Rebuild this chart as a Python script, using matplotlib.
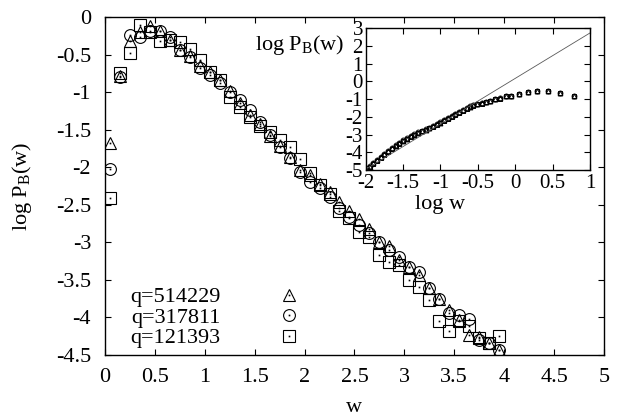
import matplotlib
matplotlib.use("Agg")
import matplotlib.pyplot as plt
from matplotlib.ticker import FormatStrFormatter, MultipleLocator
from matplotlib.legend_handler import HandlerTuple

plt.rcParams['font.family'] = ['Liberation Serif', 'DejaVu Serif']
plt.rcParams['mathtext.fontset'] = 'custom'
plt.rcParams['mathtext.rm'] = 'Liberation Serif'
plt.rcParams['mathtext.it'] = 'Liberation Serif:italic'
plt.rcParams['font.size'] = 16

# Hauptplot: Verteilung P_B(w) fuer drei q-Werte
w = [0.05, 0.15, 0.25, 0.35, 0.45, 0.55, 0.65, 0.75, 0.85, 0.95,
     1.05, 1.15, 1.25, 1.35, 1.45, 1.55, 1.65, 1.75, 1.85, 1.95,
     2.05, 2.15, 2.25, 2.35, 2.45, 2.55, 2.65, 2.75, 2.85, 2.95,
     3.05, 3.15, 3.25, 3.35, 3.45, 3.55, 3.65, 3.75, 3.85, 3.95]

logp_514229 = [-1.68, -0.78, -0.32, -0.20, -0.12, -0.18, -0.30, -0.44, -0.52, -0.65,
               -0.73, -0.84, -0.99, -1.15, -1.30, -1.42, -1.58, -1.72, -1.86, -2.04,
               -2.10, -2.22, -2.33, -2.46, -2.58, -2.69, -2.82, -2.99, -3.05, -3.24,
               -3.33, -3.44, -3.61, -3.76, -3.90, -4.04, -4.23, -4.26, -4.34, -4.43]

logp_317811 = [-2.03, -0.80, -0.24, -0.26, -0.18, -0.18, -0.27, -0.44, -0.53, -0.68,
               -0.77, -0.88, -1.00, -1.10, -1.24, -1.40, -1.57, -1.73, -1.88, -2.06,
               -2.19, -2.28, -2.40, -2.54, -2.66, -2.77, -2.88, -2.99, -3.10, -3.19,
               -3.33, -3.40, -3.61, -3.76, -3.94, -3.97, -4.02, -4.30, -4.34, -4.43]

logp_121393 = [-2.41, -0.75, -0.48, -0.11, -0.20, -0.32, -0.30, -0.33, -0.43, -0.57,
               -0.73, -0.84, -1.07, -1.20, -1.33, -1.45, -1.53, -1.64, -1.73, -1.89,
               -2.08, -2.24, -2.35, -2.58, -2.68, -2.86, -2.93, -3.17, -3.26, -3.30,
               -3.50, -3.59, -3.77, -4.05, -4.18, -4.05, -4.12, -4.28, -4.34, -4.25]

labels = ['q=514229', 'q=317811', 'q=121393']
markers = ['^', 'o', 's']

# Inset: log P_B gegen log w
logw_in = [-2.0, -1.95, -1.9, -1.85, -1.8, -1.75, -1.7, -1.65, -1.6, -1.55,
           -1.5, -1.45, -1.4, -1.35, -1.3, -1.25, -1.2, -1.15, -1.1, -1.05,
           -1.0, -0.95, -0.9, -0.85, -0.8, -0.75, -0.7, -0.65, -0.6, -0.56,
           -0.51, -0.45, -0.39, -0.34, -0.27, -0.21, -0.13, -0.05, 0.05, 0.17,
           0.29, 0.44, 0.60, 0.785]

logp_in_514229 = [-4.95, -4.80, -4.62, -4.45, -4.28, -4.10, -3.93, -3.77, -3.62, -3.48,
                  -3.35, -3.22, -3.10, -3.00, -2.90, -2.80, -2.72, -2.63, -2.53, -2.42,
                  -2.32, -2.20, -2.08, -1.97, -1.86, -1.75, -1.63, -1.52, -1.42, -1.35,
                  -1.29, -1.24, -1.18, -1.12, -1.01, -0.96, -0.84, -0.84, -0.73, -0.62,
                  -0.56, -0.56, -0.67, -0.84]

logp_in_317811 = [-4.90, -4.76, -4.60, -4.42, -4.25, -4.08, -3.90, -3.74, -3.58, -3.45,
                  -3.32, -3.20, -3.08, -2.98, -2.88, -2.79, -2.70, -2.61, -2.51, -2.40,
                  -2.30, -2.18, -2.07, -1.96, -1.85, -1.74, -1.62, -1.51, -1.41, -1.34,
                  -1.28, -1.23, -1.17, -1.11, -1.00, -0.95, -0.83, -0.83, -0.72, -0.61,
                  -0.55, -0.55, -0.66, -0.83]

logp_in_121393 = [-4.98, -4.84, -4.66, -4.48, -4.31, -4.13, -3.96, -3.80, -3.65, -3.51,
                  -3.38, -3.25, -3.12, -3.02, -2.92, -2.82, -2.74, -2.65, -2.55, -2.44,
                  -2.34, -2.22, -2.10, -1.99, -1.88, -1.77, -1.65, -1.54, -1.44, -1.37,
                  -1.30, -1.25, -1.19, -1.13, -1.02, -0.97, -0.85, -0.85, -0.74, -0.63,
                  -0.57, -0.56, -0.68, -0.85]

fit_x = [-2.0, 1.0]
fit_y = [-4.95, 2.72]

fig = plt.figure(figsize=(6.21, 4.18), dpi=100)
ax = fig.add_axes([0.169, 0.1507, 0.8036, 0.8086])

handles = []
for ys, m, lab in zip([logp_514229, logp_317811, logp_121393], markers, labels):
    h, = ax.plot(w, ys, linestyle='none', marker=m, markersize=8.5,
                 markerfacecolor='none', markeredgecolor='k', markeredgewidth=0.8)
    d, = ax.plot(w, ys, linestyle='none', marker='s', markersize=1.2,
                 markerfacecolor='k', markeredgewidth=0, color='k')
    handles.append((h, d))

ax.set_xlim(0, 5)
ax.set_ylim(-4.5, 0)
ax.xaxis.set_major_locator(MultipleLocator(0.5))
ax.yaxis.set_major_locator(MultipleLocator(0.5))
ax.xaxis.set_major_formatter(FormatStrFormatter('%g'))
ax.yaxis.set_major_formatter(FormatStrFormatter('%g'))
ax.tick_params(direction='in', length=4, width=0.8, top=True, right=True)
ax.tick_params(axis='x', pad=9)
ax.tick_params(axis='y', pad=10)
for s in ax.spines.values():
    s.set_linewidth(1.0)
ax.set_xlabel('w', labelpad=8)
ax.set_ylabel('log P$_{\\rm B}$(w)', labelpad=16)

leg = ax.legend(handles, labels, handler_map={tuple: HandlerTuple(ndivide=1)},
                loc='upper left', bbox_to_anchor=(0.02, 0.248), frameon=False,
                markerfirst=False, handlelength=2, handletextpad=2.05,
                labelspacing=0.0, borderpad=0.2)

# Inset
ax_in = fig.add_axes([0.589, 0.593, 0.361, 0.340])
for ys, m in zip([logp_in_514229, logp_in_317811, logp_in_121393], markers):
    ax_in.plot(logw_in, ys, linestyle='none', marker=m, markersize=3.5,
               markerfacecolor='none', markeredgecolor='k', markeredgewidth=0.7)
ax_in.plot(fit_x, fit_y, color='0.35', linewidth=0.6)
ax_in.set_xlim(-2, 1)
ax_in.set_ylim(-5, 3)
ax_in.xaxis.set_major_locator(MultipleLocator(0.5))
ax_in.yaxis.set_major_locator(MultipleLocator(1))
ax_in.xaxis.set_major_formatter(FormatStrFormatter('%g'))
ax_in.yaxis.set_major_formatter(FormatStrFormatter('%g'))
ax_in.tick_params(direction='in', length=4, width=0.8, top=True, right=True,
                  pad=2, labelsize=15)
ax_in.tick_params(axis='x', pad=3)
for s in ax_in.spines.values():
    s.set_linewidth(1.0)
ax_in.set_xlabel('log w', va='center')
ax_in.xaxis.set_label_coords(0.33, -0.245)
ax_in.text(-0.095, 0.88, 'log P$_{\\rm B}$(w)', transform=ax_in.transAxes,
           ha='right', va='center')

fig.savefig('out.png', dpi=100)
